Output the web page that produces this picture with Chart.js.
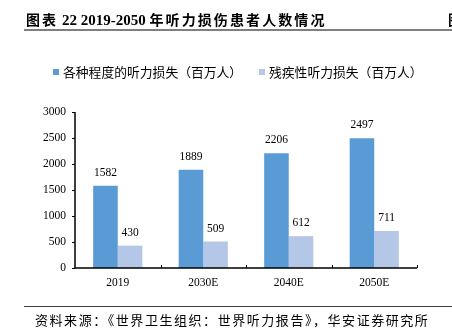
<!DOCTYPE html>
<html>
<head>
<meta charset="utf-8">
<script src="https://cdn.jsdelivr.net/npm/chart.js@4"></script>
<style>
  body { margin: 0; background: #fff; width: 452px; height: 329px; overflow: hidden; position: relative; }
  #title { position: absolute; left: 26px; top: 9px; font: bold 14px "Noto Sans CJK SC", sans-serif; color: #000; white-space: nowrap; letter-spacing: 2.1px; }
  #title .num { font: bold 15px "Liberation Serif", serif; letter-spacing: 0; }
  #cut { position: absolute; left: 448px; top: 9px; font: bold 14px "Noto Sans CJK SC"; color: #000; }
  #line1 { position: absolute; left: 24px; top: 29px; width: 428px; height: 2px; background: #7f7f7f; }
  #line2 { position: absolute; left: 24px; top: 306px; width: 428px; height: 1px; background: #404040; }
  #source { position: absolute; left: 35px; top: 310px; font: 13px "Noto Sans CJK SC", sans-serif; color: #000; white-space: nowrap; letter-spacing: 1.55px; }
  #wrap { position: absolute; left: 0; top: 0; width: 452px; height: 329px; }
</style>
</head>
<body>
<div id="wrap"><canvas id="hearingChart" width="452" height="329"></canvas></div>
<div id="title">图表<span class="num"> 22 2019-2050 </span>年听力损伤患者人数情况</div>
<div id="cut">图</div>
<div id="line1"></div>
<div id="line2"></div>
<div id="source">资料来源：《世界卫生组织：世界听力报告》，华安证券研究所</div>
<script>
const years = ['2019', '2030E', '2040E', '2050E'];
const allLoss = [1582, 1889, 2206, 2497];
const disablingLoss = [430, 509, 612, 711];
const seriesNames = ['各种程度的听力损失（百万人）', '残疾性听力损失（百万人）'];
const yTicks = [0, 500, 1000, 1500, 2000, 2500, 3000];

const serif = '"Liberation Serif", "Times New Roman", serif';

// value labels above each bar
const barLabels = {
  id: 'barLabels',
  afterDatasetsDraw(chart) {
    const ctx = chart.ctx;
    ctx.save();
    ctx.font = '11.5px ' + serif;
    ctx.fillStyle = '#000';
    ctx.textAlign = 'center';
    ctx.textBaseline = 'middle';
    chart.data.datasets.forEach((ds, i) => {
      chart.getDatasetMeta(i).data.forEach((bar, j) => {
        ctx.fillText(ds.data[j], bar.x, bar.y - 13);
      });
    });
    ctx.restore();
  }
};

// legend drawn by hand so it sits where the original one is
const legendRow = {
  id: 'legendRow',
  afterDraw(chart) {
    const ctx = chart.ctx;
    const xs = [53, 259];
    ctx.save();
    ctx.font = '12.8px "Noto Sans CJK SC", sans-serif';
    ctx.textBaseline = 'middle';
    chart.data.datasets.forEach((ds, i) => {
      ctx.fillStyle = ds.backgroundColor;
      ctx.fillRect(xs[i], 69, 6, 6);
      ctx.fillStyle = '#000';
      ctx.fillText(ds.label, xs[i] + 10, 72);
    });
    ctx.restore();
  }
};

// axis lines + small tick marks (x ticks point up)
const axisMarks = {
  id: 'axisMarks',
  afterDraw(chart) {
    const ctx = chart.ctx;
    const a = chart.chartArea;
    const y = chart.scales.y;
    ctx.save();
    ctx.strokeStyle = '#000';
    ctx.lineWidth = 1.5;
    ctx.beginPath();
    ctx.moveTo(a.left, a.top);
    ctx.lineTo(a.left, a.bottom);
    ctx.lineTo(a.right, a.bottom);
    ctx.stroke();
    ctx.lineWidth = 1;
    ctx.beginPath();
    yTicks.forEach(v => {
      const py = Math.round(y.getPixelForValue(v)) + 0.5;
      ctx.moveTo(a.left - 3, py);
      ctx.lineTo(a.left, py);
    });
    const step = (a.right - a.left) / years.length;
    for (let i = 1; i <= years.length; i++) {
      const px = Math.round(a.left + step * i) + 0.5;
      ctx.moveTo(px, a.bottom);
      ctx.lineTo(px, a.bottom - 3);
    }
    ctx.stroke();
    ctx.restore();
  }
};

new Chart(document.getElementById('hearingChart'), {
  type: 'bar',
  data: {
    labels: years,
    datasets: [
      { label: seriesNames[0], data: allLoss, backgroundColor: '#5b9bd5' },
      { label: seriesNames[1], data: disablingLoss, backgroundColor: '#b4c7e7' }
    ]
  },
  options: {
    responsive: false,
    animation: false,
    datasets: { bar: { categoryPercentage: 0.575, barPercentage: 1 } },
    layout: { padding: { top: 112, right: 35, bottom: 31, left: 0 } },
    plugins: {
      legend: { display: false },
      tooltip: { enabled: false }
    },
    scales: {
      x: {
        grid: { display: false, drawTicks: false },
        border: { display: false },
        ticks: { color: '#000', font: { size: 11.5, family: serif }, padding: 8 },
        afterFit(s) { s.height = 30; }
      },
      y: {
        min: 0, max: 3000,
        afterBuildTicks(s) { s.ticks = yTicks.map(v => ({ value: v })); },
        grid: { display: false, drawTicks: false },
        border: { display: false },
        ticks: { color: '#000', font: { size: 11.5, family: serif }, padding: 9, callback: v => String(v) },
        afterFit(s) { s.width = 75; }
      }
    }
  },
  plugins: [barLabels, legendRow, axisMarks]
});
</script>
</body>
</html>
